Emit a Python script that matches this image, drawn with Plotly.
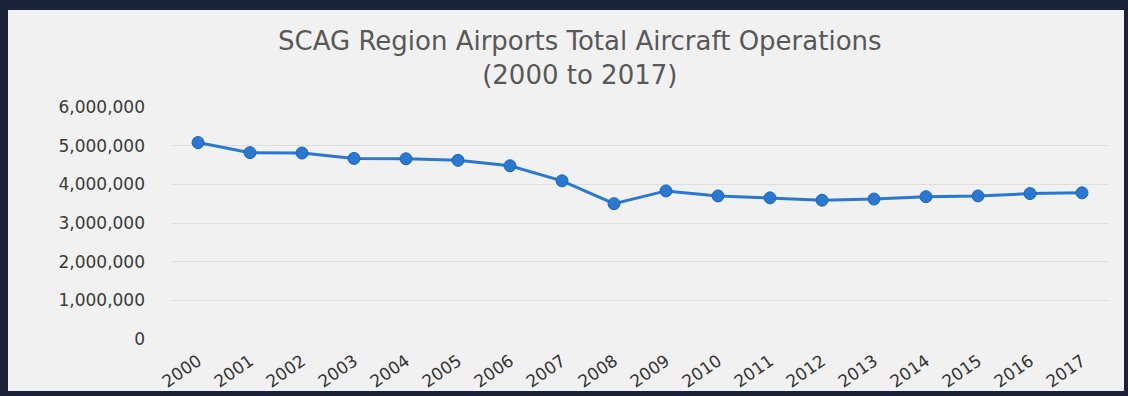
import plotly.graph_objects as go

years = [str(y) for y in range(2000, 2018)]
operations = [5080000, 4820000, 4810000, 4670000, 4660000, 4620000, 4480000, 4090000,
              3500000, 3830000, 3700000, 3650000, 3590000, 3620000, 3680000, 3700000,
              3760000, 3780000]
y_ticks = [0, 1000000, 2000000, 3000000, 4000000, 5000000, 6000000]
y_tick_labels = ["0", "1,000,000", "2,000,000", "3,000,000", "4,000,000", "5,000,000", "6,000,000"]

fig = go.Figure()
fig.add_trace(go.Scatter(
    x=years, y=operations, mode="lines+markers",
    line=dict(color="#2a78d0", width=3),
    marker=dict(color="#2a78d0", size=12, line=dict(color="#1f66b8", width=1)),
    showlegend=False, hoverinfo="x+y"))

W, H = 1128, 396
ml, mr, mt, mb = 172, 20, 107, 57
pw, ph = W - ml - mr, H - mt - mb

def px(x):
    return (x - ml) / pw
def py(y):
    return (H - mb - y) / ph

fig.update_layout(
    width=W, height=H,
    margin=dict(l=ml, r=mr, t=mt, b=mb, autoexpand=False),
    paper_bgcolor="#1b2238",
    plot_bgcolor="rgba(0,0,0,0)",
    title=dict(text="SCAG Region Airports Total Aircraft Operations<br>(2000 to 2017)",
               x=0.514, xanchor="center", y=1 - 50 / H, yanchor="middle",
               font=dict(family="DejaVu Sans", size=26, color="#585858")),
    shapes=[dict(type="rect", xref="paper", yref="paper", layer="below",
                 x0=px(8), x1=px(1124), y0=py(391), y1=py(10),
                 fillcolor="#f1f1f1", line=dict(width=0))],
    xaxis=dict(type="category", range=[-0.5, 17.5], tickangle=-35, automargin=False,
               showgrid=False, zeroline=False, showline=False, ticks="",
               ticklabelstandoff=8,
               tickfont=dict(family="DejaVu Sans", size=17, color="#333333")),
    yaxis=dict(range=[0, 6000000], tickvals=y_ticks, ticktext=y_tick_labels,
               automargin=False,
               showgrid=True, gridcolor="#dedede", gridwidth=1, zeroline=False,
               ticks="", ticklabelstandoff=26,
               tickfont=dict(family="DejaVu Sans", size=17, color="#3a3a3a")),
)

fig.write_html("out.html")
